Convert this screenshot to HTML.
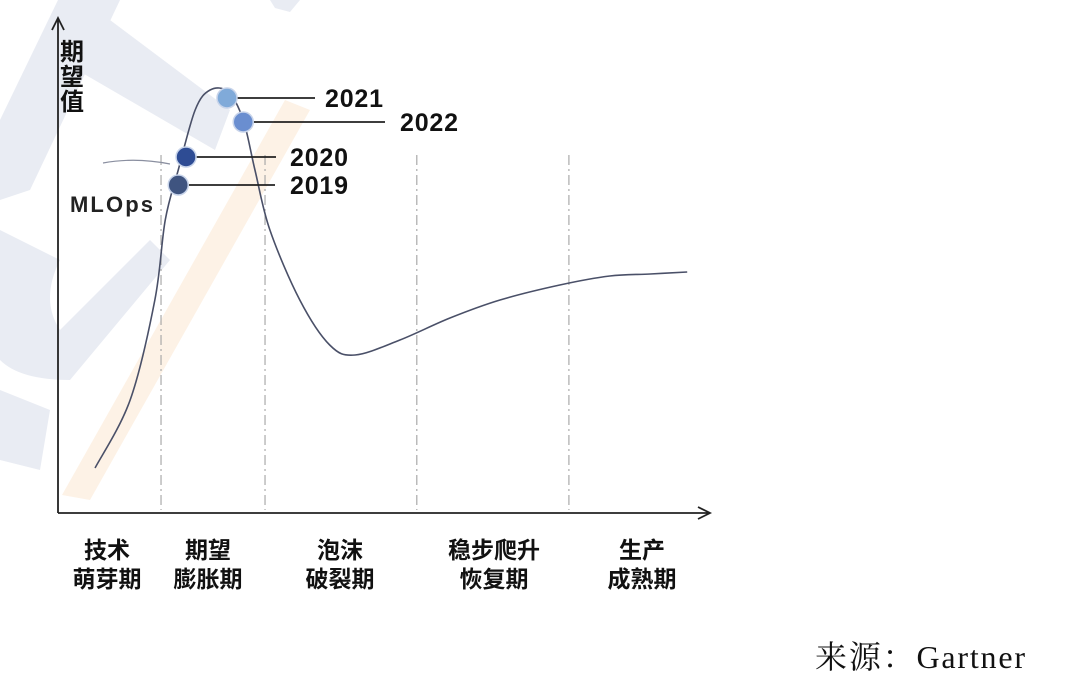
<!DOCTYPE html>
<html><head><meta charset="utf-8"><style>
html,body{margin:0;padding:0;background:#fff;}
svg{display:block;font-family:"Liberation Sans","Noto Sans CJK SC",sans-serif;}
</style></head><body>
<svg id="c" width="1080" height="700" viewBox="0 0 1080 700">
<g fill="#e9ecf3">
<polygon points="58,0 120,0 30,190 0,200 0,120"/>
<polygon points="70,20 110,20 230,110 215,150 60,60"/>
<path d="M0,230 L60,260 Q40,300 60,330 L150,240 L170,260 L70,380 Q20,380 0,360 Z"/>
<polygon points="0,390 50,410 40,470 0,460"/>
<polygon points="270,0 300,0 290,12 275,8"/>
</g>
<polygon points="285,100 310,110 90,500 62,495" fill="#fdf2e6"/>
<g id="axes"></g>
<g id="marks"></g>
<text x="815" y="668" font-family="'Liberation Serif','Noto Serif CJK SC',serif" font-size="32" textLength="210" fill="#111">来源：Gartner</text>
</svg>
<script>
const curveX=[5.7,11.1,14.9,16.5,18.5,21.1,23.4,26.2,28.5,30.3,32.6,37.2,41.8,45.7,52.6,60.3,68,77.2,84.9,91.1,96.8];
const curveY=[9,22.6,42.6,58.6,68.6,80.6,84.6,84.2,78.6,68.6,56.6,42.6,33.6,31.6,34.6,39,42.6,45.6,47.4,47.8,48.2];
const years=["2019","2020","2021","2022"];
const yearX=[18.5,19.7,26,28.5];
const yearY=[65.6,71.2,83,78.2];
const phases=["技术|萌芽期","期望|膨胀期","泡沫|破裂期","稳步爬升|恢复期","生产|成熟期"];
const phaseBounds=[15.85,31.85,55.2,78.6];
const NS="http://www.w3.org/2000/svg";
const sx=v=>58+v*6.5, sy=v=>513-v*5;
const ax=document.getElementById('axes'), mk=document.getElementById('marks');
function el(t,a,p){const e=document.createElementNS(NS,t);for(const k in a)e.setAttribute(k,a[k]);p.appendChild(e);return e;}
let e;
e=el('path',{d:'M58,513 L58,20 M52,30 L58,18 L64,30',stroke:'#222','stroke-width':1.8,fill:'none'},ax);


e=el('path',{d:'M58,513 L710,513 M698,507 L710,513 L698,519',stroke:'#222','stroke-width':1.8,fill:'none'},ax);


["期","望","值"].forEach((c,i)=>{e=el('text',{x:60,y:60+i*25,'font-size':24,'font-weight':'bold',fill:'#111'},ax);e.textContent=c;

});
phaseBounds.forEach(b=>{e=el('line',{x1:sx(b),x2:sx(b),y1:155,y2:510,stroke:'#aaa','stroke-width':1.2,'stroke-dasharray':'10,4,2,4'},ax);

});
const centers=[107,208,340,494,642];
phases.forEach((p,i)=>{const cx=centers[i];const ls=p.split('|');
ls.forEach((l,j)=>{e=el('text',{x:cx,y:558+j*29,'text-anchor':'middle','font-size':23,'font-weight':'bold',fill:'#111'},ax);e.textContent=l;

});});
const P=curveX.map((x,i)=>[sx(x),sy(curveY[i])]);
let d='M'+P[0][0]+','+P[0][1];
for(let i=0;i<P.length-1;i++){const p0=P[Math.max(0,i-1)],p1=P[i],p2=P[i+1],p3=P[Math.min(P.length-1,i+2)];
d+=` C${p1[0]+(p2[0]-p0[0])/6},${p1[1]+(p2[1]-p0[1])/6} ${p2[0]-(p3[0]-p1[0])/6},${p2[1]-(p3[1]-p1[1])/6} ${p2[0]},${p2[1]}`;}
e=el('path',{d:d,stroke:'#4a5068','stroke-width':1.6,fill:'none'},mk);


e=el('path',{d:'M103,163 Q135,157 170,164',stroke:'#8a8fa0','stroke-width':1.2,fill:'none'},mk);


e=el('text',{x:70,y:212,'font-size':22,'font-weight':'bold',fill:'#222',textLength:83},mk);e.textContent='MLOps';


const colors=['#3f5480','#2e4c94','#80aad9','#6a8ed0'];
const lineEnd=[275,276,315,385], textX=[290,290,325,400];
years.forEach((y,i)=>{const x=sx(yearX[i]),yy=sy(yearY[i]);
e=el('line',{x1:x,x2:lineEnd[i],y1:yy,y2:yy,stroke:'#222','stroke-width':1.8},mk);


e=el('circle',{cx:x,cy:yy,r:10,fill:colors[i],stroke:'#c8d4ea','stroke-width':1.5},mk);


e=el('text',{x:textX[i],y:yy+9,'font-size':25,'font-weight':'bold',fill:'#111',textLength:58},mk);e.textContent=y;

});
</script>
</body></html>
